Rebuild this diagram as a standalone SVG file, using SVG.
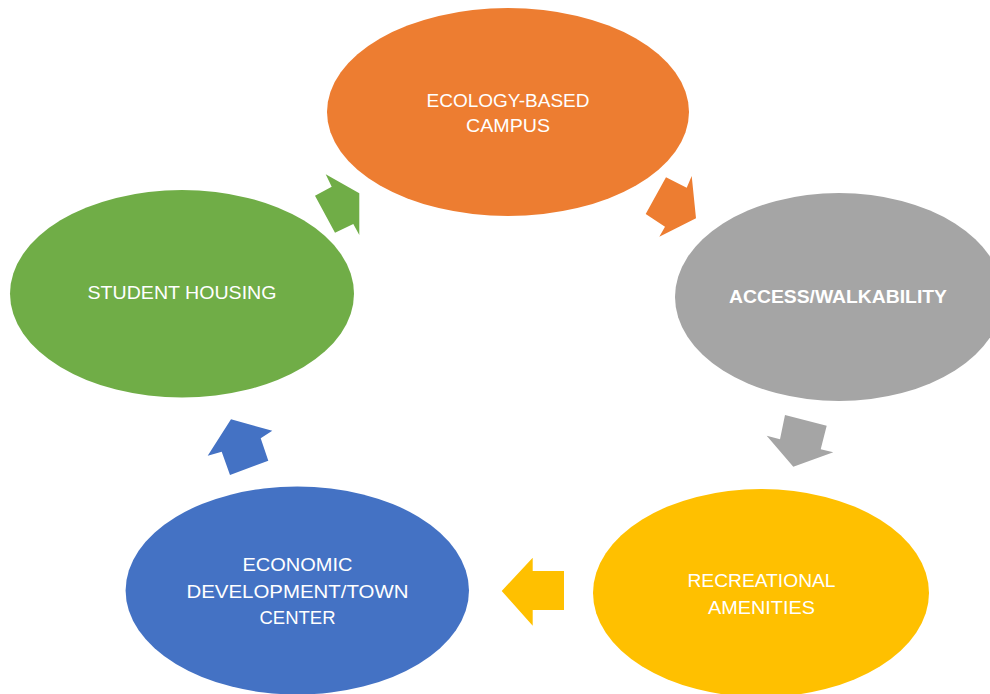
<svg xmlns="http://www.w3.org/2000/svg" width="990" height="694" viewBox="0 0 990 694">
<style>
  .lbl { font-family: "Liberation Sans", Arial, sans-serif; font-size: 19px; fill: #ffffff; text-anchor: middle; }
  .bold { font-weight: bold; }
</style>
<rect width="990" height="694" fill="#ffffff"/>
<g id="connectors">
  <polygon fill="#70AD47" points="315,195.7 331.7,186.7 325.7,174.3 359.3,193.3 359.3,235 353.3,224 335,232.7"/>
  <polygon fill="#ED7D31" points="666,177.3 686.7,187.7 691.7,176 696,218.3 659.3,236.7 665,226.7 645.7,214"/>
  <polygon fill="#A5A5A5" points="785,415 826.7,425.7 820.7,449.3 833.3,452.3 793.3,466.7 766.7,435.7 780,439.3"/>
  <polygon fill="#FFC000" points="564,571 532.7,571 532.7,557.7 501.7,591 532.7,625.7 532.7,610 564,610"/>
  <polygon fill="#4472C4" points="230,475 268.3,460.7 260.7,438.3 272.3,430.7 231,419.3 207.7,455.7 221.7,451.7"/>
</g>
<g id="node-ecology">
  <ellipse cx="508" cy="112" rx="181" ry="104" fill="#ED7D31"/>
  <text class="lbl" x="508" y="107" textLength="163" lengthAdjust="spacingAndGlyphs">ECOLOGY-BASED</text>
  <text class="lbl" x="508" y="132" textLength="84" lengthAdjust="spacingAndGlyphs">CAMPUS</text>
</g>
<g id="node-access">
  <ellipse cx="839" cy="297" rx="164" ry="104" fill="#A5A5A5"/>
  <text class="lbl bold" x="838" y="303" textLength="218" lengthAdjust="spacingAndGlyphs">ACCESS/WALKABILITY</text>
</g>
<g id="node-recreational">
  <ellipse cx="761" cy="593" rx="168" ry="104" fill="#FFC000"/>
  <text class="lbl" x="761.5" y="587" textLength="148" lengthAdjust="spacingAndGlyphs">RECREATIONAL</text>
  <text class="lbl" x="761.5" y="614" textLength="107" lengthAdjust="spacingAndGlyphs">AMENITIES</text>
</g>
<g id="node-economic">
  <ellipse cx="297.3" cy="590.5" rx="171.7" ry="104" fill="#4472C4"/>
  <text class="lbl" x="297.5" y="571" textLength="110" lengthAdjust="spacingAndGlyphs">ECONOMIC</text>
  <text class="lbl" x="297.5" y="597.7" textLength="222" lengthAdjust="spacingAndGlyphs">DEVELOPMENT/TOWN</text>
  <text class="lbl" x="297.5" y="624" textLength="76" lengthAdjust="spacingAndGlyphs">CENTER</text>
</g>
<g id="node-housing">
  <ellipse cx="182" cy="293.7" rx="172" ry="103.7" fill="#70AD47"/>
  <text class="lbl" x="182" y="299.3" textLength="189" lengthAdjust="spacingAndGlyphs">STUDENT HOUSING</text>
</g>
</svg>
